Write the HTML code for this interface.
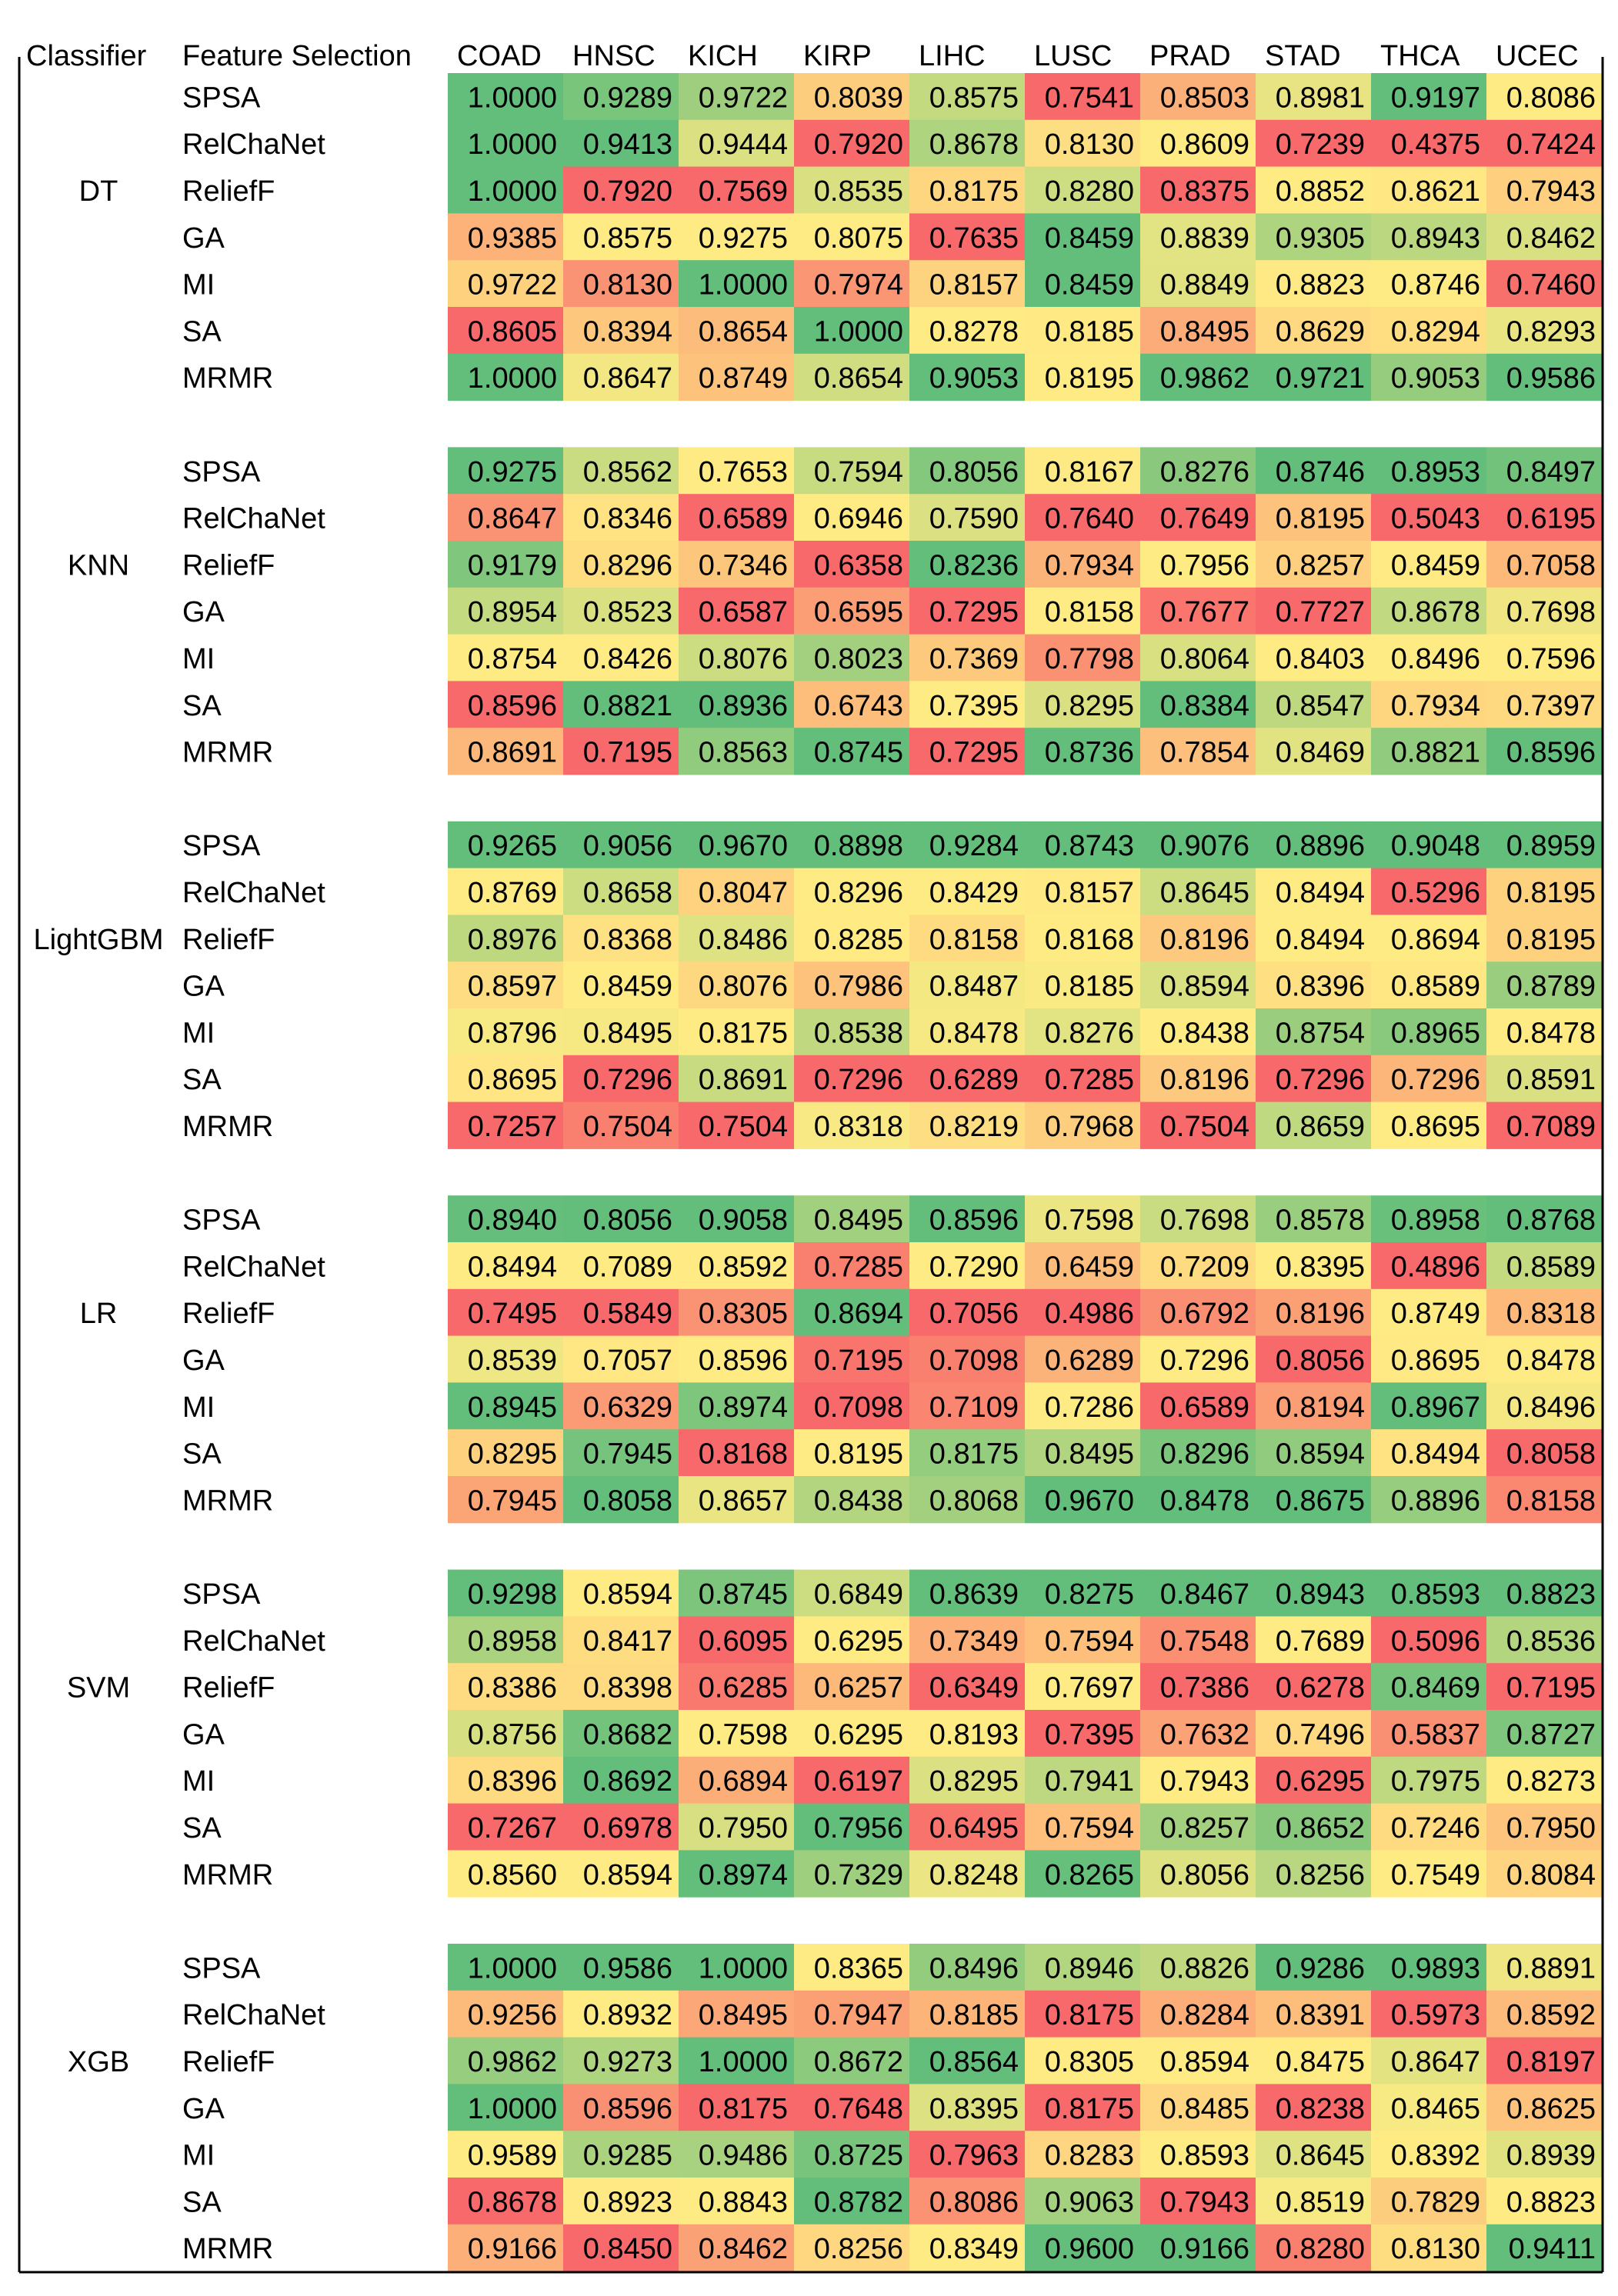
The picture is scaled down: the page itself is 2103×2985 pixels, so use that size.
<!DOCTYPE html>
<html><head><meta charset="utf-8">
<style>
html,body{margin:0;padding:0;background:#fff;}
svg{display:block;}
text{font-family:"Liberation Sans",sans-serif;fill:#000;}
</style></head>
<body>
<svg id="chart" width="2103" height="2985" viewBox="0 0 2103 2985" xmlns="http://www.w3.org/2000/svg">
<rect width="2103" height="2985" fill="#fff"/>
<g id="cells"></g>
<g id="labels"></g>
<line x1="25" y1="74" x2="25" y2="2954" stroke="#000" stroke-width="3"/>
<line x1="2083" y1="74" x2="2083" y2="2954" stroke="#000" stroke-width="3"/>
<line x1="25" y1="2954" x2="2083" y2="2954" stroke="#000" stroke-width="3"/>
</svg>
<script>
const cancers = ["COAD","HNSC","KICH","KIRP","LIHC","LUSC","PRAD","STAD","THCA","UCEC"];
const classifiers = ["DT","KNN","LightGBM","LR","SVM","XGB"];
const methods = ["SPSA","RelChaNet","ReliefF","GA","MI","SA","MRMR"];
const valsDT = [
[1.0000,0.9289,0.9722,0.8039,0.8575,0.7541,0.8503,0.8981,0.9197,0.8086],
[1.0000,0.9413,0.9444,0.7920,0.8678,0.8130,0.8609,0.7239,0.4375,0.7424],
[1.0000,0.7920,0.7569,0.8535,0.8175,0.8280,0.8375,0.8852,0.8621,0.7943],
[0.9385,0.8575,0.9275,0.8075,0.7635,0.8459,0.8839,0.9305,0.8943,0.8462],
[0.9722,0.8130,1.0000,0.7974,0.8157,0.8459,0.8849,0.8823,0.8746,0.7460],
[0.8605,0.8394,0.8654,1.0000,0.8278,0.8185,0.8495,0.8629,0.8294,0.8293],
[1.0000,0.8647,0.8749,0.8654,0.9053,0.8195,0.9862,0.9721,0.9053,0.9586]];
const valsKNN = [
[0.9275,0.8562,0.7653,0.7594,0.8056,0.8167,0.8276,0.8746,0.8953,0.8497],
[0.8647,0.8346,0.6589,0.6946,0.7590,0.7640,0.7649,0.8195,0.5043,0.6195],
[0.9179,0.8296,0.7346,0.6358,0.8236,0.7934,0.7956,0.8257,0.8459,0.7058],
[0.8954,0.8523,0.6587,0.6595,0.7295,0.8158,0.7677,0.7727,0.8678,0.7698],
[0.8754,0.8426,0.8076,0.8023,0.7369,0.7798,0.8064,0.8403,0.8496,0.7596],
[0.8596,0.8821,0.8936,0.6743,0.7395,0.8295,0.8384,0.8547,0.7934,0.7397],
[0.8691,0.7195,0.8563,0.8745,0.7295,0.8736,0.7854,0.8469,0.8821,0.8596]];
const valsLGBM = [
[0.9265,0.9056,0.9670,0.8898,0.9284,0.8743,0.9076,0.8896,0.9048,0.8959],
[0.8769,0.8658,0.8047,0.8296,0.8429,0.8157,0.8645,0.8494,0.5296,0.8195],
[0.8976,0.8368,0.8486,0.8285,0.8158,0.8168,0.8196,0.8494,0.8694,0.8195],
[0.8597,0.8459,0.8076,0.7986,0.8487,0.8185,0.8594,0.8396,0.8589,0.8789],
[0.8796,0.8495,0.8175,0.8538,0.8478,0.8276,0.8438,0.8754,0.8965,0.8478],
[0.8695,0.7296,0.8691,0.7296,0.6289,0.7285,0.8196,0.7296,0.7296,0.8591],
[0.7257,0.7504,0.7504,0.8318,0.8219,0.7968,0.7504,0.8659,0.8695,0.7089]];
const valsLR = [
[0.8940,0.8056,0.9058,0.8495,0.8596,0.7598,0.7698,0.8578,0.8958,0.8768],
[0.8494,0.7089,0.8592,0.7285,0.7290,0.6459,0.7209,0.8395,0.4896,0.8589],
[0.7495,0.5849,0.8305,0.8694,0.7056,0.4986,0.6792,0.8196,0.8749,0.8318],
[0.8539,0.7057,0.8596,0.7195,0.7098,0.6289,0.7296,0.8056,0.8695,0.8478],
[0.8945,0.6329,0.8974,0.7098,0.7109,0.7286,0.6589,0.8194,0.8967,0.8496],
[0.8295,0.7945,0.8168,0.8195,0.8175,0.8495,0.8296,0.8594,0.8494,0.8058],
[0.7945,0.8058,0.8657,0.8438,0.8068,0.9670,0.8478,0.8675,0.8896,0.8158]];
const valsSVM = [
[0.9298,0.8594,0.8745,0.6849,0.8639,0.8275,0.8467,0.8943,0.8593,0.8823],
[0.8958,0.8417,0.6095,0.6295,0.7349,0.7594,0.7548,0.7689,0.5096,0.8536],
[0.8386,0.8398,0.6285,0.6257,0.6349,0.7697,0.7386,0.6278,0.8469,0.7195],
[0.8756,0.8682,0.7598,0.6295,0.8193,0.7395,0.7632,0.7496,0.5837,0.8727],
[0.8396,0.8692,0.6894,0.6197,0.8295,0.7941,0.7943,0.6295,0.7975,0.8273],
[0.7267,0.6978,0.7950,0.7956,0.6495,0.7594,0.8257,0.8652,0.7246,0.7950],
[0.8560,0.8594,0.8974,0.7329,0.8248,0.8265,0.8056,0.8256,0.7549,0.8084]];
const valsXGB = [
[1.0000,0.9586,1.0000,0.8365,0.8496,0.8946,0.8826,0.9286,0.9893,0.8891],
[0.9256,0.8932,0.8495,0.7947,0.8185,0.8175,0.8284,0.8391,0.5973,0.8592],
[0.9862,0.9273,1.0000,0.8672,0.8564,0.8305,0.8594,0.8475,0.8647,0.8197],
[1.0000,0.8596,0.8175,0.7648,0.8395,0.8175,0.8485,0.8238,0.8465,0.8625],
[0.9589,0.9285,0.9486,0.8725,0.7963,0.8283,0.8593,0.8645,0.8392,0.8939],
[0.8678,0.8923,0.8843,0.8782,0.8086,0.9063,0.7943,0.8519,0.7829,0.8823],
[0.9166,0.8450,0.8462,0.8256,0.8349,0.9600,0.9166,0.8280,0.8130,0.9411]];
const groups = [valsDT,valsKNN,valsLGBM,valsLR,valsSVM,valsXGB];

const NS="http://www.w3.org/2000/svg";
const X0=582, CW=150, Y0=95, RH=60.8;
const colX = c => X0 + c*CW;
const rowY = (g,r) => Y0 + (g*8 + r)*RH;
const RED=[248,105,107], YEL=[255,235,132], GRN=[99,190,123];
function mix(a,b,t){t=Math.max(0,Math.min(1,t));return 'rgb('+a.map((v,i)=>Math.round(v+(b[i]-v)*t)).join(',')+')';}
function colorFor(v,min,med,max){
  if(v>=max && max>min) return mix(GRN,GRN,0);
  if(v<=min && max>min) return mix(RED,RED,0);
  if(v<=med){ return med===min?mix(YEL,YEL,0):mix(RED,YEL,(v-min)/(med-min)); }
  return max===med?mix(YEL,YEL,0):mix(YEL,GRN,(v-med)/(max-med));
}
function mk(tag,attrs,parent){const e=document.createElementNS(NS,tag);for(const k in attrs)e.setAttribute(k,attrs[k]);parent.appendChild(e);return e;}
const cellsG=document.getElementById('cells'), labG=document.getElementById('labels');

let t=mk('text',{x:34,y:85,'font-size':38},labG); t.textContent='Classifier';


t=mk('text',{x:237,y:85,'font-size':38},labG); t.textContent='Feature Selection';


cancers.forEach((c,i)=>{
  const e=mk('text',{x:colX(i)+12,y:85,'font-size':38},labG); e.textContent=c;
  
  
});

groups.forEach((vals,g)=>{
  const cl=mk('text',{x:128,y:rowY(g,2)+RH/2+14,'font-size':38,'text-anchor':'middle'},labG);
  cl.textContent=classifiers[g];
  
  
  methods.forEach((m,r)=>{
    const ml=mk('text',{x:237,y:rowY(g,r)+RH/2+14,'font-size':38},labG);
    ml.textContent=m;
    
    
  });
  for(let c=0;c<cancers.length;c++){
    const col=vals.map(r=>r[c]);
    const s=[...col].sort((a,b)=>a-b);
    const min=s[0],max=s[s.length-1],med=s[Math.floor(s.length/2)];
    vals.forEach((row,r)=>{
      const v=row[c];
      const rc=mk('rect',{x:colX(c),y:rowY(g,r),width:CW+0.5,height:RH+0.5,fill:colorFor(v,min,med,max)},cellsG);
      
      
      const tx=mk('text',{x:colX(c)+CW-8,y:rowY(g,r)+RH/2+14,'font-size':38,'text-anchor':'end'},labG);
      tx.textContent=v.toFixed(4);
      
      
    });
  }
});
</script>
</body></html>
